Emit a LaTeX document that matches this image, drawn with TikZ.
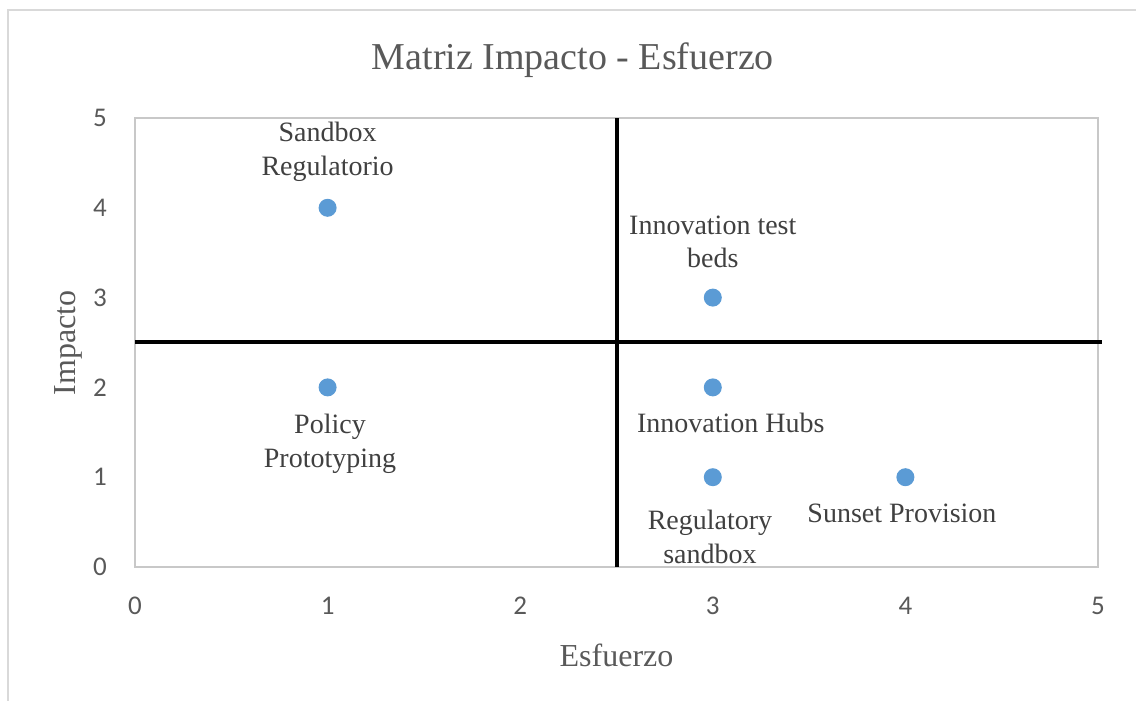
\documentclass[tikz,border=0pt]{standalone}
\usepackage{fontspec}
\setmainfont{Liberation Serif}
\newfontfamily\tickfont{Carlito}
\usetikzlibrary{positioning}
\definecolor{dotBlue}{RGB}{91,155,213}
\definecolor{textGray}{RGB}{64,64,64}
\definecolor{tickGray}{RGB}{89,89,89}
\definecolor{boxGray}{RGB}{200,200,200}
\definecolor{frameGray}{RGB}{217,217,217}
\tikzstyle{dot} = [circle, fill=dotBlue, inner sep=0pt, minimum size=9pt]
\tikzstyle{lbl} = [font={\fontsize{14}{16.8}\selectfont}, text=textGray,
        align=center, inner sep=0pt]
\tikzstyle{tickLbl} = [font={\tickfont\fontsize{13.5}{16}\selectfont}, text=tickGray,
        inner sep=0pt]
\tikzstyle{axisTitle} = [font={\fontsize{16}{19}\selectfont}, text=tickGray, inner sep=0pt]
\tikzstyle{quadLine} = [line width=2pt, black]

\begin{document}
\begin{tikzpicture}[x=96.3pt, y=44.9pt]
    \useasboundingbox (-67.5pt,-67pt) rectangle (500.5pt,283.5pt);
    % chart frame
    \draw[frameGray, line width=1pt] (-63.5pt,-80pt) |- (520pt,278.5pt);
    % plot area
    \draw[boxGray, line width=1pt] (0,0) rectangle (5,5);
    % quadrants
    \coordinate (qBottom) at (2.5,0);
    \coordinate (qTop) at (2.5,5);
    \coordinate (qLeft) at (0,2.5);
    \coordinate (qRight) at (5.02,2.5);
    \draw[quadLine] (qBottom) -- (qTop);
    \draw[quadLine] (qLeft) -- (qRight);
    % ticks
    \foreach \i in {0,...,5} {
        \node[tickLbl] (xTick\i) at ([yshift=-19.5pt]\i,0) {\i};
        \node[tickLbl] (yTick\i) at ([xshift=-17.5pt]0,\i) {\i};
    }
    % titles
    \node[axisTitle, font={\fontsize{19}{23}\selectfont}] (title) at (2.274,5.646)
        {Matriz Impacto - Esfuerzo};
    \node[axisTitle] (xTitle) at (2.5,-0.98) {Esfuerzo};
    \node[axisTitle, rotate=90] (yTitle) at (-0.348,2.494) {Impacto};
    % data points
    \node[dot] (pSandbox) at (1,4) {};
    \node[dot] (pTestBeds) at (3,3) {};
    \node[dot] (pPolicy) at (1,2) {};
    \node[dot] (pHubs) at (3,2) {};
    \node[dot] (pRegSandbox) at (3,1) {};
    \node[dot] (pSunset) at (4,1) {};
    % data labels
    \node[lbl] (lSandbox) at ([yshift=28pt]pSandbox) {Sandbox\\Regulatorio};
    \node[lbl] (lTestBeds) at ([yshift=27.8pt]pTestBeds) {Innovation test\\beds};
    \node[lbl] (lPolicy) at ([xshift=1.2pt,yshift=-28.3pt]pPolicy) {Policy\\Prototyping};
    \node[lbl] (lHubs) at ([xshift=9pt,yshift=-17.8pt]pHubs) {Innovation Hubs};
    \node[lbl] (lRegSandbox) at ([xshift=-1.4pt,yshift=-30pt]pRegSandbox) {Regulatory\\sandbox};
    \node[lbl] (lSunset) at ([xshift=-1.7pt,yshift=-17.9pt]pSunset) {Sunset Provision};
\end{tikzpicture}
\end{document}
